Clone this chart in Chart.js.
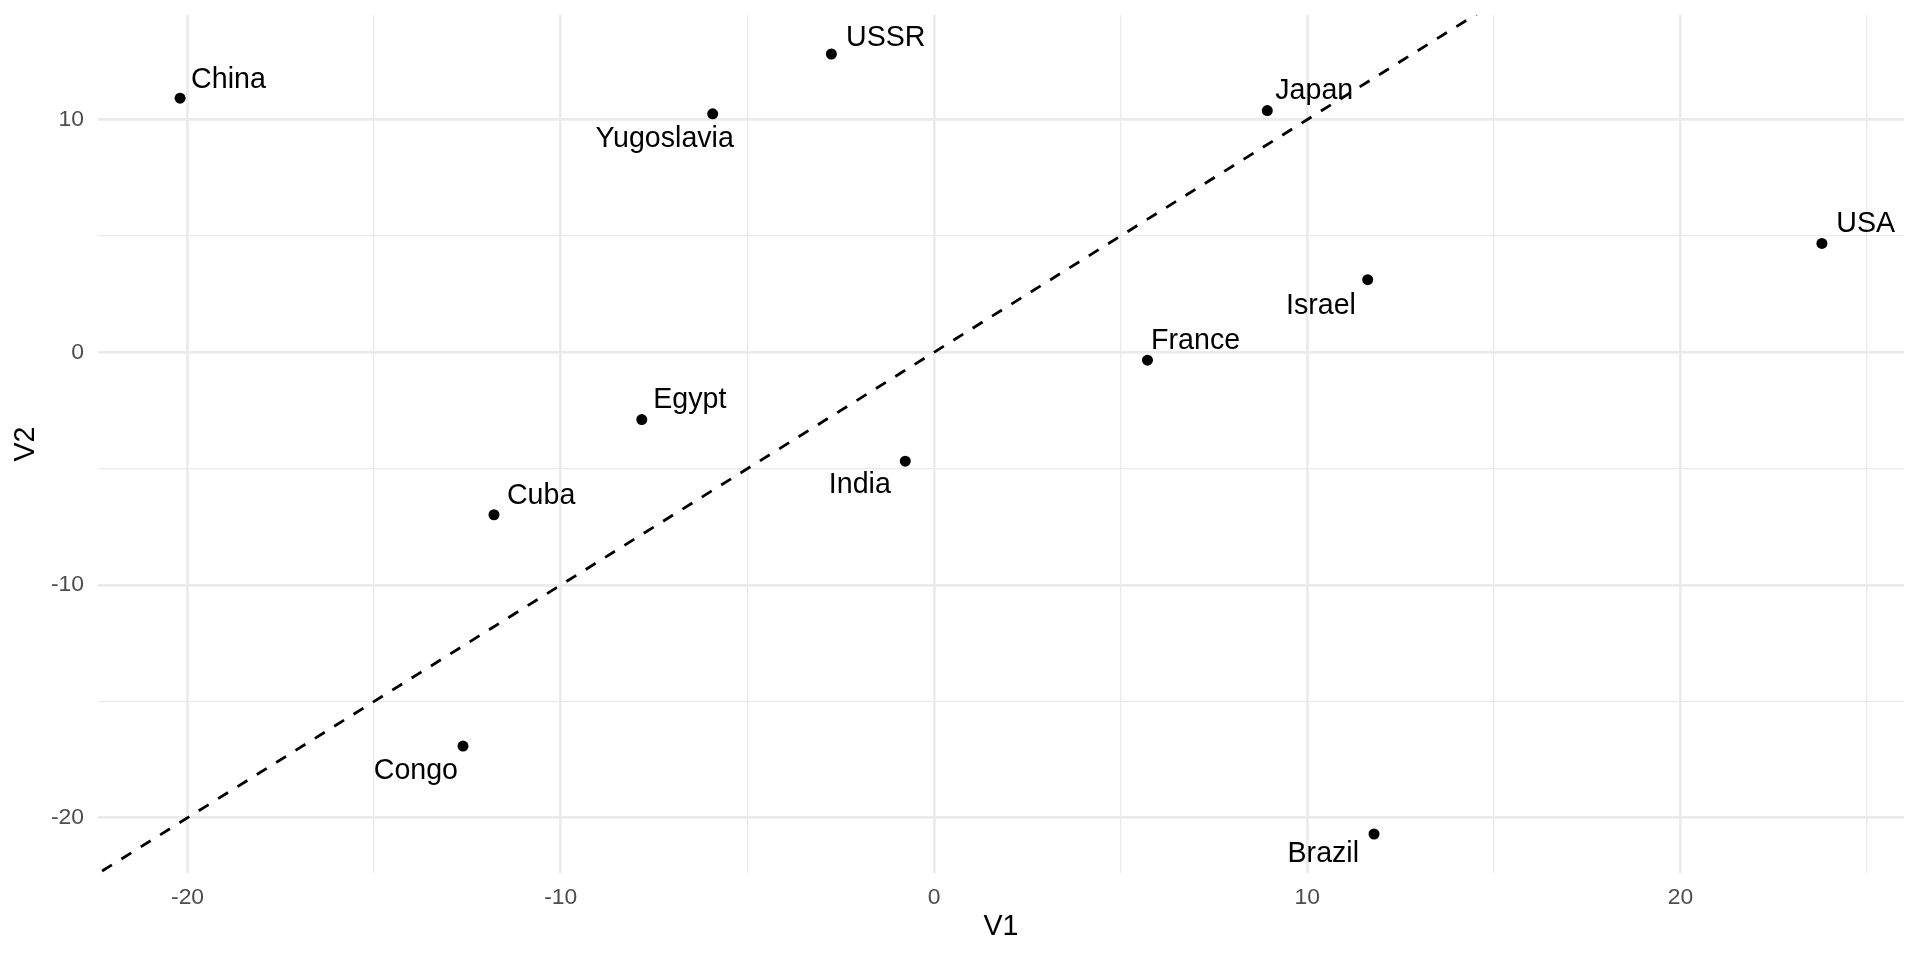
<!DOCTYPE html>
<html lang="en">
<head>
<meta charset="UTF-8">
<title>V1 vs V2</title>
<script src="https://cdn.jsdelivr.net/npm/chart.js"></script>
<style>
  body { margin: 0; background: #fff; }
  .wrap { width: 1920px; height: 960px; }
</style>
</head>
<body>
<div class="wrap"><canvas id="chart"></canvas></div>
<script>
// data
const countries = ['China', 'USSR', 'Yugoslavia', 'Japan', 'USA', 'Israel', 'France', 'Egypt', 'India', 'Cuba', 'Congo', 'Brazil'];
const v1 = [-20.2, -2.75, -5.93, 8.93, 23.79, 11.62, 5.72, -7.83, -0.77, -11.79, -12.62, 11.79];
const v2 = [10.92, 12.82, 10.25, 10.39, 4.68, 3.12, -0.34, -2.89, -4.68, -6.98, -16.92, -20.7];
const xTicks = [-20, -15, -10, -5, 0, 5, 10, 15, 20, 25];
const yTicks = [-20, -15, -10, -5, 0, 5, 10];
const refSlope = 1, refIntercept = 0;

// label placement (repel-like), pixels from the point: [dx, dy, align]
const labelPlace = [
  [11, -10.7, 'left'], [14.7, -7.6, 'left'], [-48, 33.4, 'center'], [8, -11.7, 'left'],
  [14.4, -11.4, 'left'], [-11.8, 34, 'right'], [3.6, -11.7, 'left'], [11.5, -11.7, 'left'],
  [-14.4, 31.6, 'right'], [13, -10.3, 'left'], [-5, 33, 'right'], [-15, 28.3, 'right']
];

const FONT = '"Liberation Sans", Arial, Helvetica, sans-serif';
const DASH = [11.6, 11.2];

function expand(vals) {
  const lo = Math.min(...vals), hi = Math.max(...vals), pad = (hi - lo) * 0.05;
  return [lo - pad, hi + pad];
}
const [xMin, xMax] = expand(v1);
const [yMin, yMax] = expand(v2);

const points = countries.map((c, i) => ({ x: v1[i], y: v2[i] }));
const refLine = [xMin, xMax].map(x => ({ x: x, y: refIntercept + refSlope * x }));

// make a dash start right at the origin, as in the reference
function dashPhase(ctx) {
  const s = ctx.chart.scales;
  if (!s || !s.x || !s.y) return 0;
  const dx = s.x.getPixelForValue(0) - s.x.getPixelForValue(xMin);
  const dy = s.y.getPixelForValue(refIntercept + refSlope * xMin) - s.y.getPixelForValue(refIntercept);
  const period = DASH[0] + DASH[1];
  const d = Math.hypot(dx, dy) % period;
  return (period - d) % period;
}

const labelPlugin = {
  id: 'pointLabels',
  afterDatasetsDraw(chart) {
    const { ctx, scales: { x, y } } = chart;
    ctx.save();
    ctx.font = '28.6px ' + FONT;
    ctx.fillStyle = '#000';
    ctx.textBaseline = 'alphabetic';
    countries.forEach((c, i) => {
      const px = x.getPixelForValue(v1[i]);
      const py = y.getPixelForValue(v2[i]);
      const [dx, dy, align] = labelPlace[i];
      ctx.textAlign = align;
      ctx.fillText(c, px + dx, py + dy);
    });
    ctx.restore();
  }
};

const gridWidth = ctx => (ctx.tick && ctx.tick.value % 10 === 0) ? 2.7 : 1.35;

new Chart(document.getElementById('chart'), {
  type: 'scatter',
  data: {
    datasets: [
      {
        data: points,
        backgroundColor: '#000',
        borderWidth: 0,
        pointRadius: 5.5,
        pointHoverRadius: 5.5
      },
      {
        type: 'line',
        data: refLine,
        borderColor: '#000',
        borderWidth: 2.8,
        borderDash: DASH,
        borderDashOffset: dashPhase,
        pointRadius: 0,
        fill: false
      }
    ]
  },
  options: {
    responsive: true,
    maintainAspectRatio: false,
    animation: false,
    layout: { padding: { top: 15, right: 16, left: 0, bottom: 0 } },
    plugins: { legend: { display: false }, tooltip: { enabled: false } },
    scales: {
      x: {
        type: 'linear',
        min: xMin,
        max: xMax,
        afterBuildTicks: s => { s.ticks = xTicks.map(v => ({ value: v })); },
        afterFit: s => { s.height = 87; s.paddingLeft = 0; s.paddingRight = 0; },
        border: { display: false },
        grid: { color: '#ebebeb', lineWidth: gridWidth, drawTicks: false },
        ticks: {
          padding: 11,
          color: '#4d4d4d',
          font: { family: FONT, size: 22.9 },
          maxRotation: 0,
          autoSkip: false,
          callback: v => v % 10 === 0 ? String(v) : ''
        },
        title: {
          display: true,
          text: 'V1',
          color: '#000',
          font: { family: FONT, size: 28.6 },
          padding: { top: 0, bottom: 15.8 }
        }
      },
      y: {
        type: 'linear',
        min: yMin,
        max: yMax,
        afterBuildTicks: s => { s.ticks = yTicks.map(v => ({ value: v })); },
        afterFit: s => { s.width = 98; s.paddingTop = 0; s.paddingBottom = 0; },
        border: { display: false },
        grid: { color: '#ebebeb', lineWidth: gridWidth, drawTicks: false },
        ticks: {
          padding: 14,
          color: '#4d4d4d',
          font: { family: FONT, size: 22.9 },
          autoSkip: false,
          callback: v => v % 10 === 0 ? String(v) : ''
        },
        title: {
          display: true,
          text: 'V2',
          color: '#000',
          font: { family: FONT, size: 28.6 },
          padding: { top: 9, bottom: 0 }
        }
      }
    }
  },
  plugins: [labelPlugin]
});
</script>
</body>
</html>
